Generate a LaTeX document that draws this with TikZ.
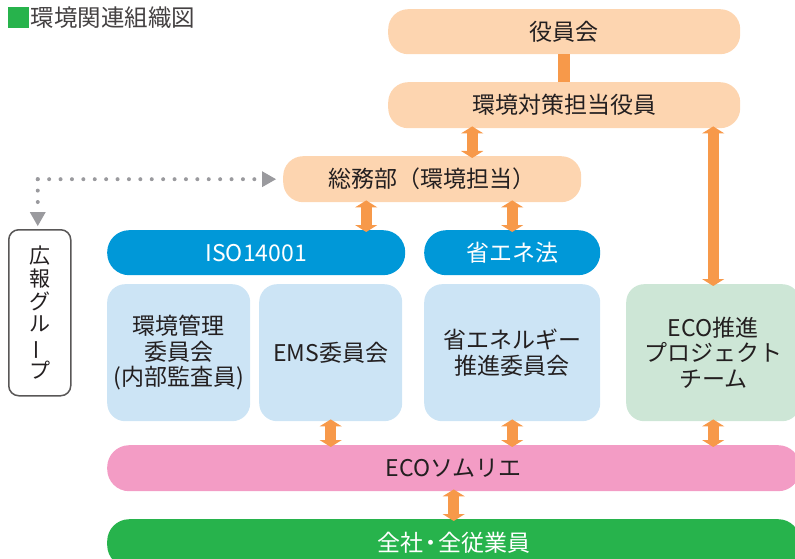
\documentclass[tikz,border=0pt]{standalone}
\usepackage{fontspec}
\usepackage{graphicx}
\setmainfont{Noto Sans CJK JP}
\usetikzlibrary{arrows.meta}
\definecolor{peach}{HTML}{FDD5B0}
\definecolor{arrowor}{HTML}{F7994A}
\definecolor{isoblue}{HTML}{0098D8}
\definecolor{lblue}{HTML}{CCE4F5}
\definecolor{lgreen}{HTML}{CDE6D6}
\definecolor{pinkc}{HTML}{F39CC5}
\definecolor{greenc}{HTML}{27B34C}
\definecolor{grayc}{HTML}{9A9A9E}
\definecolor{txt}{HTML}{231F20}
\definecolor{outl}{HTML}{595757}
\tikzset{
  box/.style={anchor=north west, inner sep=0pt, align=center, text=txt,
    font=\fontsize{23}{25.5}\selectfont},
  peachbox/.style={box, fill=peach, rounded corners=20pt},
  bluebar/.style={box, fill=isoblue, rounded corners=22pt, text=white},
  lbluebox/.style={box, fill=lblue, rounded corners=18pt},
  lgreenbox/.style={box, fill=lgreen, rounded corners=18pt},
  pinkbar/.style={box, fill=pinkc, rounded corners=22pt},
  greenbar/.style={box, fill=greenc, rounded corners=22pt, text=white},
  dbl/.style={draw=arrowor, line width=11pt,
    {Triangle[width=22pt,length=7pt]}-{Triangle[width=22pt,length=7pt]},
    shorten <=-2pt, shorten >=-2pt},
  dotline/.style={draw=grayc, line width=4pt, line cap=round,
    dash pattern=on 0pt off 11.4pt},
}
\begin{document}
\begin{tikzpicture}[x=1pt,y=-1pt]
\useasboundingbox (0,0) rectangle (795,559);
\clip (0,0) rectangle (795,559);
% title
\node[anchor=north west, fill=greenc, minimum width=21pt, minimum height=21pt, inner sep=0pt] (sq) at (8,7) {};
\node[anchor=west, inner sep=0pt, text=txt!85, font=\fontsize{23.5}{26}\selectfont] (title) at ([xshift=1pt]sq.east) {環境関連組織図};
% boxes
\node[peachbox, minimum width=352pt, minimum height=45pt] (yakuin) at (388,9) {役員会};
\node[peachbox, minimum width=352pt, minimum height=46pt] (tanto) at (388,82) {環境対策担当役員};
\node[peachbox, minimum width=298pt, minimum height=46pt] (somu) at (283,156) {総務部（環境担当）};
\node[bluebar, minimum width=298pt, minimum height=45pt] (iso) at (107,230) {ISO14001};
\node[bluebar, minimum width=176pt, minimum height=45pt] (shoene) at (424,230) {省エネ法};
\node[lbluebox, minimum width=143pt, minimum height=137pt] (kanri) at (107,284) {環境管理\\委員会\\(内部監査員)};
\node[lbluebox, minimum width=143pt, minimum height=137pt] (ems) at (259,284) {EMS委員会};
\node[lbluebox, minimum width=176pt, minimum height=137pt] (shoeneiin) at (424,284) {省エネルギー\\推進委員会};
\node[lgreenbox, minimum width=174pt, minimum height=137pt] (ecopj) at (626,284) {ECO推進\\プロジェクト\\チーム};
\node[pinkbar, minimum width=693pt, minimum height=46pt] (somurie) at (107,445) {ECOソムリエ};
\node[greenbar, minimum width=693pt, minimum height=48pt] (zensha) at (107,519) {全社\kern-0.18em・\kern-0.18em全従業員};
% kouhou
\node[anchor=north west, draw=outl, line width=1.5pt, fill=white, rounded corners=10pt,
  minimum width=62pt, minimum height=166pt, inner sep=0pt, align=center, text=txt,
  font=\fontsize{21}{22.6}\selectfont] (kouhou) at (8,229)
  {広\\報\\グ\\ル\\\rotatebox[origin=c]{90}{ー}\\プ};
% connectors
\draw[draw=arrowor, line width=12pt] (yakuin.south) -- (tanto.north);
\draw[dbl] ([xshift=40pt]somu.north) -- ([xshift=40pt]somu.north |- tanto.south);
\draw[dbl] ([xshift=110pt]iso.north) -- ([xshift=110pt]iso.north |- somu.south);
\draw[dbl] (shoene.north) -- (shoene.north |- somu.south);
\draw[dbl] (ecopj.north) -- (ecopj.north |- tanto.south);
\draw[dbl] (ems.south) -- (ems.south |- somurie.north);
\draw[dbl] (shoeneiin.south) -- (shoeneiin.south |- somurie.north);
\draw[dbl] (ecopj.south) -- (ecopj.south |- somurie.north);
\draw[dbl] (somurie.south) -- (somurie.south |- zensha.north);
% dotted link
\coordinate (corner) at ([xshift=-2pt]kouhou.north |- somu.west);
\draw[dotline] (corner) -- ([xshift=-25pt]somu.west);
\draw[dotline] (corner) -- ([xshift=-2pt,yshift=26pt]kouhou.north);
\fill[grayc] ([xshift=-7pt]somu.west) -- ++(-14pt,-8pt) -- ++(0,16pt) -- cycle;
\fill[grayc] ([xshift=-2pt,yshift=3pt]kouhou.north) -- ++(-8pt,14pt) -- ++(16pt,0) -- cycle;
\end{tikzpicture}
\end{document}
